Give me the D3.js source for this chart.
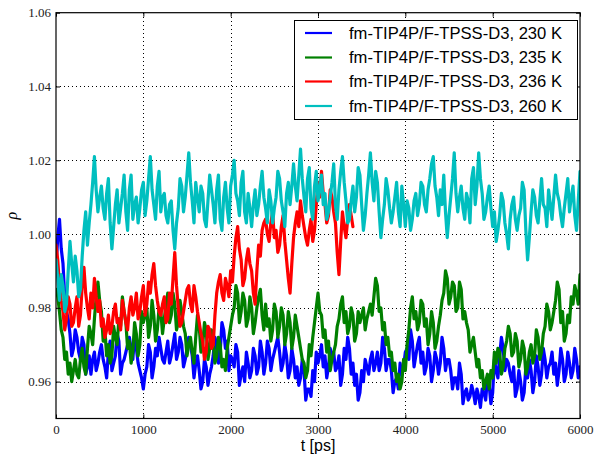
<!DOCTYPE html>
<html>
<head>
<meta charset="utf-8">
<script src="https://cdn.jsdelivr.net/npm/d3@7"></script>
<style>
  body { margin: 0; background: #fff; }
  svg { display: block; }
</style>
</head>
<body>
<svg id="chart" width="595" height="457"></svg>
<script>
// Density trajectories, sampled every STEP ps
const STEP = 20;

const seriesLabels = [
  "fm-TIP4P/F-TPSS-D3, 230 K",
  "fm-TIP4P/F-TPSS-D3, 235 K",
  "fm-TIP4P/F-TPSS-D3, 236 K",
  "fm-TIP4P/F-TPSS-D3, 260 K"
];
const seriesColors = ["#0000ff", "#008000", "#ff0000", "#00bfbf"];

const rho230 = [
  0.991, 0.999, 1.004, 0.996, 0.992, 0.983, 0.979, 0.977, 0.973, 0.967, 0.969, 0.974, 0.972, 0.968, 0.966, 0.972, 0.970, 0.962, 0.964, 0.967,
  0.962, 0.966, 0.968, 0.963, 0.965, 0.968, 0.970, 0.966, 0.964, 0.961, 0.968, 0.971, 0.963, 0.965, 0.967, 0.973, 0.971, 0.962, 0.965, 0.966,
  0.968, 0.970, 0.972, 0.969, 0.966, 0.973, 0.969, 0.965, 0.963, 0.961, 0.958, 0.962, 0.964, 0.970, 0.968, 0.961, 0.964, 0.969, 0.967, 0.972,
  0.969, 0.966, 0.965, 0.968, 0.971, 0.965, 0.967, 0.970, 0.973, 0.966, 0.968, 0.972, 0.970, 0.964, 0.966, 0.969, 0.972, 0.970, 0.967, 0.961,
  0.965, 0.967, 0.963, 0.958, 0.960, 0.966, 0.964, 0.959, 0.962, 0.964, 0.967, 0.972, 0.970, 0.965, 0.968, 0.976, 0.974, 0.969, 0.971, 0.963,
  0.967, 0.966, 0.964, 0.970, 0.968, 0.959, 0.962, 0.964, 0.960, 0.968, 0.965, 0.961, 0.963, 0.969, 0.967, 0.962, 0.964, 0.971, 0.968, 0.962,
  0.965, 0.971, 0.969, 0.963, 0.966, 0.968, 0.970, 0.972, 0.968, 0.963, 0.965, 0.970, 0.967, 0.961, 0.963, 0.969, 0.966, 0.961, 0.964, 0.959,
  0.961, 0.966, 0.963, 0.955, 0.958, 0.958, 0.956, 0.963, 0.960, 0.968, 0.965, 0.967, 0.970, 0.964, 0.967, 0.961, 0.964, 0.969, 0.966, 0.968,
  0.963, 0.964, 0.967, 0.959, 0.962, 0.969, 0.966, 0.972, 0.969, 0.962, 0.965, 0.959, 0.962, 0.955, 0.957, 0.963, 0.960, 0.966, 0.964, 0.962,
  0.966, 0.968, 0.963, 0.965, 0.968, 0.963, 0.965, 0.972, 0.969, 0.963, 0.966, 0.966, 0.963, 0.957, 0.960, 0.961, 0.958, 0.965, 0.962, 0.964,
  0.968, 0.969, 0.966, 0.974, 0.971, 0.964, 0.967, 0.970, 0.972, 0.965, 0.968, 0.962, 0.964, 0.969, 0.967, 0.960, 0.963, 0.968, 0.966, 0.962,
  0.965, 0.972, 0.969, 0.963, 0.966, 0.966, 0.963, 0.958, 0.961, 0.961, 0.958, 0.965, 0.962, 0.954, 0.957, 0.958, 0.955, 0.956, 0.959, 0.957,
  0.954, 0.958, 0.956, 0.953, 0.958, 0.957, 0.955, 0.961, 0.959, 0.954, 0.957, 0.966, 0.963, 0.961, 0.967, 0.972, 0.969, 0.963, 0.966, 0.965,
  0.962, 0.960, 0.964, 0.956, 0.958, 0.963, 0.960, 0.955, 0.957, 0.964, 0.961, 0.966, 0.963, 0.957, 0.960, 0.967, 0.964, 0.959, 0.962, 0.969,
  0.966, 0.961, 0.964, 0.965, 0.968, 0.962, 0.965, 0.959, 0.963, 0.969, 0.966, 0.960, 0.962, 0.968, 0.965, 0.961, 0.963, 0.969, 0.966, 0.961,
  0.964
];

const rho235 = [
  0.985, 0.983, 0.979, 0.974, 0.972, 0.966, 0.968, 0.962, 0.965, 0.960, 0.963, 0.966, 0.962, 0.961, 0.966, 0.969, 0.964, 0.962, 0.969, 0.975,
  0.973, 0.970, 0.977, 0.983, 0.987, 0.982, 0.979, 0.971, 0.974, 0.967, 0.970, 0.965, 0.967, 0.975, 0.972, 0.970, 0.977, 0.975, 0.983, 0.979,
  0.976, 0.969, 0.971, 0.965, 0.968, 0.976, 0.973, 0.967, 0.970, 0.979, 0.976, 0.978, 0.980, 0.972, 0.975, 0.982, 0.978, 0.971, 0.974, 0.980,
  0.979, 0.973, 0.977, 0.981, 0.984, 0.976, 0.978, 0.984, 0.981, 0.974, 0.976, 0.982, 0.979, 0.975, 0.973, 0.967, 0.970, 0.972, 0.968, 0.965,
  0.972, 0.978, 0.975, 0.968, 0.970, 0.976, 0.974, 0.966, 0.969, 0.974, 0.971, 0.965, 0.967, 0.972, 0.970, 0.964, 0.966, 0.963, 0.969, 0.972,
  0.975, 0.978, 0.980, 0.986, 0.984, 0.976, 0.979, 0.984, 0.982, 0.975, 0.977, 0.983, 0.980, 0.973, 0.976, 0.980, 0.983, 0.985, 0.978, 0.974,
  0.981, 0.975, 0.977, 0.971, 0.974, 0.981, 0.979, 0.972, 0.975, 0.980, 0.978, 0.970, 0.973, 0.979, 0.976, 0.969, 0.972, 0.978, 0.975, 0.972,
  0.969, 0.966, 0.965, 0.961, 0.963, 0.970, 0.967, 0.972, 0.976, 0.980, 0.984, 0.979, 0.978, 0.972, 0.974, 0.968, 0.971, 0.963, 0.966, 0.968,
  0.970, 0.975, 0.977, 0.981, 0.983, 0.976, 0.979, 0.973, 0.975, 0.980, 0.978, 0.971, 0.973, 0.979, 0.976, 0.978, 0.980, 0.974, 0.977, 0.979,
  0.981, 0.978, 0.983, 0.988, 0.986, 0.979, 0.980, 0.974, 0.976, 0.970, 0.972, 0.967, 0.968, 0.963, 0.965, 0.960, 0.962, 0.958, 0.960, 0.966,
  0.963, 0.970, 0.974, 0.980, 0.983, 0.977, 0.979, 0.974, 0.976, 0.982, 0.981, 0.975, 0.977, 0.970, 0.973, 0.979, 0.976, 0.969, 0.971, 0.975,
  0.978, 0.982, 0.984, 0.990, 0.988, 0.981, 0.983, 0.987, 0.986, 0.979, 0.980, 0.987, 0.985, 0.977, 0.979, 0.976, 0.974, 0.968, 0.970, 0.972,
  0.968, 0.964, 0.966, 0.961, 0.963, 0.958, 0.960, 0.962, 0.958, 0.963, 0.961, 0.968, 0.965, 0.969, 0.968, 0.962, 0.964, 0.969, 0.971, 0.975,
  0.973, 0.967, 0.968, 0.973, 0.971, 0.964, 0.966, 0.971, 0.969, 0.962, 0.964, 0.968, 0.970, 0.965, 0.967, 0.974, 0.972, 0.966, 0.968, 0.973,
  0.975, 0.981, 0.979, 0.974, 0.976, 0.979, 0.982, 0.987, 0.985, 0.976, 0.979, 0.971, 0.973, 0.978, 0.976, 0.983, 0.981, 0.986, 0.984, 0.981,
  0.989
];

// 236 K run stops at 3400 ps
const rho236 = [
  0.997, 0.993, 0.986, 0.982, 0.979, 0.974, 0.977, 0.983, 0.981, 0.975, 0.976, 0.980, 0.983, 0.975, 0.978, 0.986, 0.991, 0.984, 0.980, 0.977,
  0.984, 0.980, 0.988, 0.983, 0.979, 0.982, 0.975, 0.977, 0.972, 0.974, 0.978, 0.973, 0.975, 0.979, 0.981, 0.976, 0.977, 0.974, 0.982, 0.979,
  0.976, 0.974, 0.980, 0.983, 0.978, 0.980, 0.984, 0.977, 0.979, 0.983, 0.986, 0.978, 0.981, 0.987, 0.984, 0.989, 0.992, 0.986, 0.982, 0.979,
  0.978, 0.981, 0.983, 0.976, 0.977, 0.984, 0.981, 0.988, 0.995, 0.986, 0.980, 0.975, 0.976, 0.979, 0.982, 0.985, 0.986, 0.981, 0.979, 0.986,
  0.983, 0.979, 0.976, 0.973, 0.971, 0.966, 0.968, 0.975, 0.974, 0.969, 0.970, 0.978, 0.984, 0.987, 0.989, 0.984, 0.982, 0.988, 0.986, 0.983,
  0.990, 0.987, 0.994, 0.999, 1.002, 0.996, 0.993, 0.986, 0.988, 0.993, 0.996, 0.992, 0.990, 0.984, 0.981, 0.990, 0.997, 0.994, 1.001, 1.003,
  1.004, 1.000, 0.998, 1.003, 1.006, 0.999, 1.001, 0.995, 0.997, 1.002, 1.005, 0.998, 0.993, 0.988, 0.984, 0.992, 0.999, 1.003, 1.006, 1.002,
  1.009, 1.005, 1.002, 0.999, 0.997, 1.001, 1.004, 0.998, 1.001, 1.008, 1.014, 1.010, 1.017, 1.011, 1.008, 1.003, 1.005, 1.012, 1.010, 1.006,
  1.003, 0.995, 0.989, 0.998, 1.006, 1.002, 0.999, 1.004, 1.008, 1.005, 1.002
];

const rho260 = [
  0.993, 0.988, 0.982, 0.989, 0.986, 0.979, 0.981, 0.990, 0.998, 0.992, 0.987, 0.994, 0.990, 0.983, 0.985, 0.994, 1.001, 1.006, 0.997, 1.003,
  1.008, 1.014, 1.021, 1.012, 1.006, 1.010, 1.013, 1.007, 1.004, 1.011, 1.015, 1.003, 0.996, 1.002, 1.008, 1.012, 1.003, 1.007, 1.011, 1.016,
  1.006, 1.001, 1.012, 1.016, 1.004, 1.008, 1.010, 1.003, 1.007, 1.012, 1.014, 1.005, 1.009, 1.015, 1.021, 1.012, 1.008, 1.004, 1.013, 1.017,
  1.006, 1.010, 1.011, 1.005, 1.003, 1.008, 1.009, 1.001, 0.996, 1.003, 1.007, 1.015, 1.013, 1.006, 1.010, 1.016, 1.022, 1.014, 1.009, 1.003,
  1.014, 1.010, 1.006, 1.013, 1.011, 1.004, 1.002, 1.009, 1.016, 1.012, 1.008, 1.003, 1.012, 1.016, 1.004, 1.001, 1.010, 1.014, 1.007, 1.003,
  1.013, 1.016, 1.020, 1.011, 1.009, 1.005, 1.014, 1.017, 1.006, 1.003, 1.011, 1.007, 1.002, 1.008, 1.012, 1.005, 1.008, 1.013, 1.017, 1.010,
  1.007, 1.003, 1.012, 1.009, 1.003, 1.007, 1.010, 1.017, 1.015, 1.009, 1.006, 1.002, 1.011, 1.014, 1.008, 1.013, 1.019, 1.013, 1.009, 1.016,
  1.023, 1.015, 1.010, 1.006, 1.015, 1.018, 1.007, 1.004, 1.013, 1.017, 1.009, 1.012, 1.016, 1.008, 1.011, 1.004, 1.006, 1.010, 1.014, 1.019,
  1.008, 1.004, 1.012, 1.017, 1.021, 1.014, 1.009, 1.003, 1.004, 1.009, 1.013, 1.006, 1.010, 1.018, 1.016, 1.008, 1.001, 1.005, 1.011, 1.016,
  1.022, 1.014, 1.009, 1.017, 1.014, 1.006, 0.999, 1.004, 1.008, 1.015, 1.012, 1.007, 1.003, 1.006, 1.010, 1.014, 1.006, 1.002, 1.013, 1.008,
  1.002, 1.009, 1.007, 1.001, 1.004, 1.009, 1.011, 1.005, 1.008, 1.014, 1.013, 1.008, 1.006, 1.012, 1.015, 1.019, 1.021, 1.013, 1.010, 1.005,
  1.012, 1.008, 1.016, 1.006, 0.999, 1.005, 1.010, 1.015, 1.022, 1.011, 1.006, 1.010, 1.013, 1.007, 1.004, 1.011, 1.009, 1.003, 1.015, 1.018,
  1.008, 1.013, 1.022, 1.015, 1.011, 1.004, 1.006, 1.010, 1.013, 1.007, 1.002, 1.006, 0.998, 1.001, 1.005, 1.011, 1.009, 1.003, 1.000, 0.996,
  1.004, 1.008, 1.010, 1.004, 1.001, 1.005, 1.007, 1.014, 1.012, 1.001, 0.993, 0.999, 1.006, 1.012, 1.010, 1.005, 1.003, 1.009, 1.015, 1.008,
  1.007, 1.002, 1.012, 1.008, 1.004, 1.010, 1.016, 1.011, 1.009, 1.005, 1.002, 1.007, 1.011, 1.015, 1.006, 1.010, 1.013, 1.005, 1.001, 1.009,
  1.017
];

const xTickValues = [0, 1000, 2000, 3000, 4000, 5000, 6000];
const yTickValues = [0.96, 0.98, 1.00, 1.02, 1.04, 1.06];
const xDomain = [0, 6000];
const yDomain = [0.95, 1.06];

const allSeries = [rho230, rho235, rho236, rho260];

// Layout
const plot = { left: 56, right: 580, top: 12.7, bottom: 418.5 };

const svg = d3.select("#chart");

const x = d3.scaleLinear().domain(xDomain).range([plot.left, plot.right]);
const y = d3.scaleLinear().domain(yDomain).range([plot.bottom, plot.top]);

// Clip for data lines
svg.append("defs").append("clipPath").attr("id", "plotClip")
  .append("rect")
  .attr("x", plot.left).attr("y", plot.top)
  .attr("width", plot.right - plot.left)
  .attr("height", plot.bottom - plot.top);

// Dotted grid
const grid = svg.append("g").attr("class", "grid")
  .attr("stroke", "#000").attr("stroke-width", 1)
  .attr("stroke-dasharray", "1,3").attr("shape-rendering", "crispEdges");
grid.selectAll("line.gx").data(xTickValues.filter(v => v > xDomain[0] && v < xDomain[1]))
  .join("line").attr("class", "gx")
  .attr("x1", d => Math.round(x(d)) + 0.5).attr("x2", d => Math.round(x(d)) + 0.5)
  .attr("y1", plot.top).attr("y2", plot.bottom);
grid.selectAll("line.gy").data(yTickValues.filter(v => v > yDomain[0] && v < yDomain[1]))
  .join("line").attr("class", "gy")
  .attr("y1", d => Math.round(y(d)) + 0.5).attr("y2", d => Math.round(y(d)) + 0.5)
  .attr("x1", plot.left).attr("x2", plot.right);

// Data lines
const line = d3.line()
  .x((d, i) => x(i * STEP))
  .y(d => y(d));

svg.append("g").attr("clip-path", "url(#plotClip)")
  .selectAll("path")
  .data(allSeries)
  .join("path")
  .attr("d", d => line(d))
  .attr("fill", "none")
  .attr("stroke", (d, i) => seriesColors[i])
  .attr("stroke-width", 3.2)
  .attr("stroke-linejoin", "round")
  .attr("stroke-linecap", "round");

// Axes with inward ticks on all four sides
const tickFont = "'Liberation Serif', 'Times New Roman', serif";
const fmtY = d3.format(".2f");

const xAxisB = d3.axisBottom(x).tickValues(xTickValues).tickSize(-4).tickPadding(6).tickFormat(d3.format("d"));
const xAxisT = d3.axisTop(x).tickValues(xTickValues).tickSize(-4).tickFormat("");
const yAxisL = d3.axisLeft(y).tickValues(yTickValues).tickSize(-4).tickPadding(5).tickFormat(fmtY);
const yAxisR = d3.axisRight(y).tickValues(yTickValues).tickSize(-4).tickFormat("");

function styleAxis(g) {
  g.attr("font-family", tickFont).attr("font-size", 13);
  g.select(".domain").remove();
  g.selectAll(".tick line").attr("stroke", "#000").attr("stroke-width", 1);
  g.selectAll(".tick text")
    .attr("fill", "#222")
    .attr("font-family", tickFont)
    .style("font-family", tickFont)
    .style("font-size", "13px");
}

svg.append("g").attr("transform", `translate(0,${plot.bottom})`).call(xAxisB).call(styleAxis);
svg.append("g").attr("transform", `translate(0,${plot.top})`).call(xAxisT).call(styleAxis);
svg.append("g").attr("transform", `translate(${plot.left},0)`).call(yAxisL).call(styleAxis);
svg.append("g").attr("transform", `translate(${plot.right},0)`).call(yAxisR).call(styleAxis);

// Frame
svg.append("rect")
  .attr("x", plot.left).attr("y", plot.top)
  .attr("width", plot.right - plot.left)
  .attr("height", plot.bottom - plot.top)
  .attr("fill", "none").attr("stroke", "#000").attr("stroke-width", 1.2);

// Axis labels
svg.append("text")
  .attr("x", (plot.left + plot.right) / 2)
  .attr("y", 451)
  .attr("text-anchor", "middle")
  .style("font-family", "'Liberation Sans', Arial, sans-serif")
  .style("font-size", "16px")
  .attr("fill", "#000")
  .text("t [ps]");

svg.append("text")
  .attr("transform", `translate(17,${(plot.top + plot.bottom) / 2}) rotate(-90)`)
  .attr("text-anchor", "middle")
  .style("font-family", "'Liberation Serif', 'DejaVu Serif', serif")
  .style("font-style", "italic")
  .style("font-size", "16px")
  .attr("fill", "#000")
  .text("ρ");

// Legend
const legend = svg.append("g").attr("class", "legend");
legend.append("rect")
  .attr("x", 294.5).attr("y", 20.5)
  .attr("width", 283).attr("height", 99)
  .attr("fill", "#fff").attr("stroke", "#000").attr("stroke-width", 1);

const rowY = [33, 57.5, 81.5, 106];
const rows = legend.selectAll("g.row").data(seriesLabels).join("g").attr("class", "row")
  .attr("transform", (d, i) => `translate(0,${rowY[i]})`);
rows.append("line")
  .attr("x1", 305).attr("x2", 332).attr("y1", 0).attr("y2", 0)
  .attr("stroke", (d, i) => seriesColors[i]).attr("stroke-width", 2.2);
rows.append("text")
  .attr("x", 349).attr("y", 0).attr("dy", "0.36em")
  .style("font-family", "'Liberation Sans', Arial, sans-serif")
  .style("font-size", "16.6px")
  .attr("fill", "#000")
  .text(d => d);
</script>
</body>
</html>
